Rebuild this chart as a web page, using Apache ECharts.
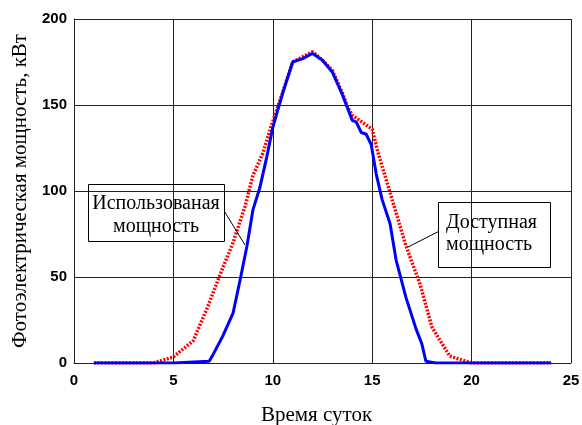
<!DOCTYPE html>
<html>
<head>
<meta charset="utf-8">
<script src="https://cdn.jsdelivr.net/npm/echarts@6/dist/echarts.min.js"></script>
<style>
	html, body { margin: 0; padding: 0; background: #fff; }
	#chart { width: 582px; height: 425px; }
</style>
</head>
<body>
<div id="chart"></div>
<script>
// время суток, ч / мощность, кВт
var usedHours = [1, 5, 6.8, 7.0, 7.5, 8.0, 8.35, 8.7, 9.0, 9.35, 9.7, 10.0, 10.5, 11.0, 11.5, 12.0, 12.5, 13.0, 13.5, 13.8, 14.0, 14.2, 14.45, 14.7, 14.95, 15.2, 15.5, 15.9, 16.2, 16.7, 17.2, 17.5, 17.7, 18.2, 24];
var usedPower = [0, 0, 1, 5, 16, 29, 48, 68, 89, 102, 120, 137, 157, 175, 177, 180, 176, 169, 156, 147, 141, 140, 134, 133, 127, 110, 95, 81, 60, 38, 20, 11, 1, 0, 0];

var availHours = [1, 4, 5, 6, 6.7, 7.3, 8.0, 8.6, 9.0, 9.5, 9.9, 10.4, 11.0, 11.5, 12.0, 12.5, 13.0, 13.5, 13.8, 14.0, 14.5, 15.0, 15.3, 15.9, 16.7, 17.4, 18.0, 18.9, 20, 24];
var availPower = [0, 0, 3.5, 13, 32, 50, 70, 91, 109, 122, 137, 154, 175, 178, 181, 176, 170, 157, 148, 144, 140, 136, 122, 99, 68, 46, 21, 4, 0, 0];

var xTicks = [0, 5, 10, 15, 20, 25];
var yTicks = [0, 50, 100, 150, 200];

var usedLabel = ['Использованая', 'мощность'];
var availLabel = ['Доступная', 'мощность'];

function pairs(xs, ys) {
	var out = [];
	for (var i = 0; i < xs.length; i++) {
		out.push([xs[i], ys[i]]);
	}
	return out;
}

var serif = '"Liberation Serif", "DejaVu Serif", serif';
var sans = '"Liberation Sans", Arial, sans-serif';

var myChart = echarts.init(document.getElementById('chart'));

var option = {
	animation: false,
	backgroundColor: '#fff',
	grid: { left: 74, right: 11, top: 19, bottom: 62, containLabel: false, outerBoundsMode: 'none' },
	xAxis: {
		type: 'value',
		min: xTicks[0],
		max: xTicks[xTicks.length - 1],
		interval: 5,
		name: 'Время суток',
		nameLocation: 'middle',
		nameGap: 42,
		nameTextStyle: { fontFamily: serif, fontSize: 21, color: '#000', padding: [0, 12, 0, 0] },
		axisLine: { show: true, lineStyle: { color: '#222', width: 1 } },
		axisTick: { show: false },
		axisLabel: { fontFamily: sans, fontWeight: 'bold', fontSize: 15, color: '#000', margin: 10 },
		splitLine: { show: true, lineStyle: { color: '#222', width: 1 } }
	},
	yAxis: {
		type: 'value',
		min: yTicks[0],
		max: yTicks[yTicks.length - 1],
		interval: 50,
		name: 'Фотоэлектрическая мощность, кВт',
		nameLocation: 'middle',
		nameGap: 42,
		nameTextStyle: { fontFamily: serif, fontSize: 21, color: '#000' },
		axisLine: { show: true, lineStyle: { color: '#222', width: 1 } },
		axisTick: { show: false },
		axisLabel: { fontFamily: sans, fontWeight: 'bold', fontSize: 15, color: '#000', margin: 7 },
		splitLine: { show: true, lineStyle: { color: '#222', width: 1 } }
	},
	series: [
		{
			name: 'Доступная мощность',
			type: 'line',
			data: pairs(availHours, availPower),
			showSymbol: false,
			z: 2,
			lineStyle: { color: '#ff0000', width: 3.5, type: [2, 1.5] }
		},
		{
			name: 'Использованая мощность',
			type: 'line',
			data: pairs(usedHours, usedPower),
			showSymbol: false,
			z: 3,
			lineStyle: { color: '#0000ff', width: 3 }
		}
	],
	graphic: [
		{ type: 'rect', shape: { x: 88.5, y: 184.5, width: 136, height: 57 },
			style: { fill: 'none', stroke: '#000', lineWidth: 1 }, z: 10 },
		{ type: 'text', x: 156, y: 204, style: { text: usedLabel[0], font: '20px ' + serif,
			fill: '#000', align: 'center', verticalAlign: 'middle' }, z: 10 },
		{ type: 'text', x: 156, y: 227, style: { text: usedLabel[1], font: '20px ' + serif,
			fill: '#000', align: 'center', verticalAlign: 'middle' }, z: 10 },
		{ type: 'line', shape: { x1: 224.5, y1: 211.5, x2: 245, y2: 245 },
			style: { stroke: '#000', lineWidth: 1 }, z: 10 },

		{ type: 'rect', shape: { x: 438.5, y: 202.5, width: 112, height: 65 },
			style: { fill: 'none', stroke: '#000', lineWidth: 1 }, z: 10 },
		{ type: 'text', x: 446, y: 223, style: { text: availLabel[0], font: '20px ' + serif,
			fill: '#000', align: 'left', verticalAlign: 'middle' }, z: 10 },
		{ type: 'text', x: 446, y: 245, style: { text: availLabel[1], font: '20px ' + serif,
			fill: '#000', align: 'left', verticalAlign: 'middle' }, z: 10 },
		{ type: 'line', shape: { x1: 438.5, y1: 231.5, x2: 408, y2: 247 },
			style: { stroke: '#000', lineWidth: 1 }, z: 10 }
	]
};

myChart.setOption(option);
</script>
</body>
</html>
